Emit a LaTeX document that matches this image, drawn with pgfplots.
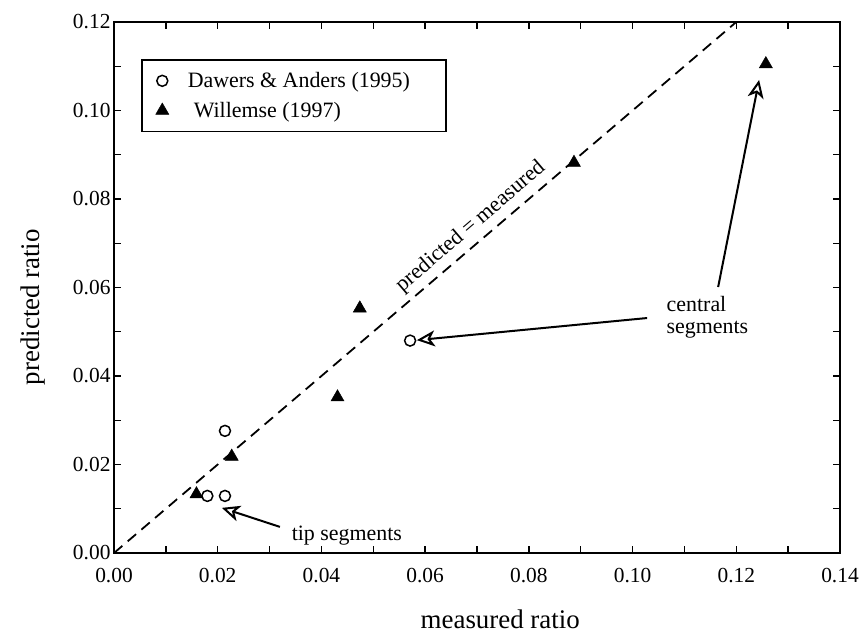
\documentclass[border=0pt]{standalone}
\usepackage{pgfplots}
\pgfplotsset{compat=1.18}
\usepackage{fontspec}
\setmainfont{Liberation Serif}
\usetikzlibrary{arrows.meta}

\begin{document}
\begin{tikzpicture}
\begin{axis}[
    at={(114bp,81bp)},
    anchor=south west,
    scale only axis,
    width=726bp, height=531bp,
    xmin=0, xmax=0.14,
    ymin=0, ymax=0.12,
    xtick={0,0.02,...,0.14},
    ytick={0,0.02,...,0.12},
    minor x tick num=1,
    minor y tick num=1,
    tick align=inside,
    major tick length=7bp,
    minor tick length=7bp,
    every tick/.style={black, line width=1.4bp},
    axis line style={line width=2bp},
    clip=false,
    /pgf/number format/assume math mode=true,
    xticklabel style={/pgf/number format/fixed, /pgf/number format/fixed zerofill,
        /pgf/number format/precision=2, yshift=-12bp},
    yticklabel style={/pgf/number format/fixed, /pgf/number format/fixed zerofill,
        /pgf/number format/precision=2},
    scaled ticks=false,
    tick label style={font=\fontsize{21.5}{25}\selectfont},
    label style={font=\fontsize{27}{30}\selectfont},
    xlabel={measured ratio},
    ylabel={predicted ratio},
    xlabel style={at={(axis description cs:0.532,-0.1431)}, anchor=base},
    ylabel style={at={(axis description cs:-0.1033,0.463)}, anchor=base},
    legend cell align=left,
    legend image code/.code={\draw[#1] plot coordinates {(0bp,0bp)};},
    legend style={
        at={(axis description cs:0.0372,0.930)},
        anchor=north west,
        draw=black, line width=1.6bp,
        font=\fontsize{22}{26}\selectfont,
        inner xsep=14bp, inner ysep=12.5bp,
        row sep=13bp,
        nodes={inner sep=0bp},
        /tikz/every odd column/.append style={column sep=19bp},
    },
]

% Dawers & Anders (1995)
\addplot[only marks, mark=o, mark size=5.5bp, line width=1.5bp, fill=white]
coordinates {
    (0.0214,0.0276) (0.0180,0.0129) (0.0214,0.0129) (0.0571,0.0480)
};
\addlegendentry{Dawers \& Anders (1995)\hspace*{22bp}}

% Willemse (1997)
\addplot[only marks, mark=triangle*, mark size=7.5bp, black, line width=0.5bp]
coordinates {
    (0.0159,0.0133) (0.0227,0.0218) (0.0431,0.0352) (0.0474,0.0553)
    (0.0887,0.0882) (0.1257,0.1105)
};
\addlegendentry{\hspace*{6bp}Willemse (1997)}

% predicted = measured
\addplot[black, line width=1.8bp, dash pattern=on 11bp off 7bp, forget plot]
coordinates {(0,0) (0.12,0.12)};

\node[rotate=40.5, font=\fontsize{22}{24}\selectfont]
    at (axis cs:0.0688,0.0737) {predicted = measured};

\node[anchor=west, align=left, font=\fontsize{22}{22.5}\selectfont]
    at (axis cs:0.1059,0.0533) {central\\segments};
\node[anchor=base west, font=\fontsize{22}{24}\selectfont]
    at (axis cs:0.0336,0.0029) {tip segments};

\draw[line width=2bp, -{Stealth[open, length=18bp, width=16bp, inset=5bp]}]
    (axis cs:0.1028,0.0531) -- (axis cs:0.0584,0.0481);
\draw[line width=2bp, -{Stealth[open, length=18bp, width=16bp, inset=5bp]}]
    (axis cs:0.1165,0.0601) -- (axis cs:0.1244,0.1069);
\draw[line width=2bp, -{Stealth[open, length=18bp, width=16bp, inset=5bp]}]
    (axis cs:0.0320,0.0059) -- (axis cs:0.0208,0.0102);

\end{axis}
\pgfresetboundingbox
\useasboundingbox (0,0) rectangle (860bp,634bp);
\end{tikzpicture}
\end{document}
